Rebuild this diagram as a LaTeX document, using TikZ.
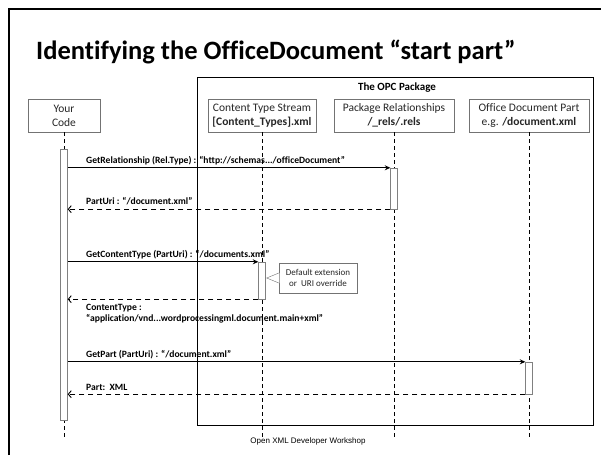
\documentclass[tikz,border=0pt]{standalone}
\usepackage{fontspec}
\setmainfont{Carlito}[Ligatures=CommonOff]
\newfontfamily\footfont{Liberation Sans}
\usetikzlibrary{arrows.meta}
\def\lifeend{438}

\tikzset{
  head/.style={draw=black!55, minimum height=33pt, inner sep=0pt, align=center,
    text=black!85, font=\fontsize{11.5}{14}\selectfont},
  actbar/.style={draw=black!50, fill=white, minimum width=7pt, inner sep=0pt},
  life/.style={dash pattern=on 4pt off 3pt, line width=0.9pt},
  call/.style={-{Stealth[length=5.5pt,width=5pt]}, line width=0.9pt},
  ret/.style={-{Straight Barb[length=3pt,width=7pt]}, dash pattern=on 5pt off 4pt, line width=0.9pt},
  lbl/.style={anchor=base west, inner sep=0pt, align=left,
    font=\bfseries\fontsize{9.6}{11}\selectfont},
}

\begin{document}
\begin{tikzpicture}[x=1pt,y=-1pt]
\useasboundingbox (0,0) rectangle (601,455);
\draw[line width=2pt] (9,455) -- (9,9) -- (601,9);

\node[anchor=base west, inner sep=0pt, font=\bfseries\fontsize{26.5}{30}\selectfont] (title) at (36,59)
  {Identifying the OfficeDocument “start part”};

\draw[line width=1pt] (197,77) rectangle (593,425);
\node[font=\bfseries\fontsize{11}{13}\selectfont] (opc) at (397,88) {The OPC Package};

\node[head, minimum width=72pt] (code) at (64,115.5) {Your\\Code};
\node[head, minimum width=108pt] (ct) at (262,115.5) {Content Type Stream\\\textbf{[Content\_Types].xml}};
\node[head, minimum width=120pt] (rels) at (394,115.5) {Package Relationships\\\textbf{/\_rels/.rels}};
\node[head, minimum width=120pt] (doc) at (529,115.5) {Office Document Part\\e.g. \textbf{/document.xml}};

\coordinate (codeend) at (64,\lifeend);
\coordinate (ctend) at (262,\lifeend);
\coordinate (relsend) at (394,\lifeend);
\coordinate (docend) at (529,\lifeend);
\draw[life] (code.south) -- (codeend);
\draw[life] (ct.south) -- (ctend);
\draw[life] (rels.south) -- (relsend);
\draw[life] (doc.south) -- (docend);

\node[actbar, minimum height=271pt] (codebar) at (64,284.5) {};
\node[actbar, minimum height=41pt] (relsbar) at (394,188.5) {};
\node[actbar, minimum height=37pt] (ctbar) at (262,280.5) {};
\node[actbar, minimum height=32pt] (docbar) at (529,378) {};

\draw[call] (codebar.east |- relsbar.north west) -- (relsbar.north west);
\draw[ret] (relsbar.south west) -- (codebar.east |- relsbar.south west);
\draw[call] (codebar.east |- ctbar.north west) -- (ctbar.north west);
\draw[ret] (ctbar.south west) -- (codebar.east |- ctbar.south west);
\draw[call] (codebar.east |- docbar.north west) -- (docbar.north west);
\draw[ret] (docbar.south west) -- (codebar.east |- docbar.south west);

\node[lbl] (getrel) at (86,163) {GetRelationship (Rel.Type) : “http://schemas.../officeDocument”};
\node[lbl] (parturi) at (86,204) {PartUri : “/document.xml”};
\node[lbl] (getct) at (86,257) {GetContentType (PartUri) : “/documents.xml”};
\node[lbl] (ctype) at (86,321) {ContentType :\\“application/vnd...wordprocessingml.document.main+xml”};
\node[lbl] (getpart) at (86,357) {GetPart (PartUri) : “/document.xml”};
\node[lbl] (part) at (86,390) {Part:\ \ XML};

\node[draw=black!55, fill=white, minimum width=78pt, minimum height=30pt, inner sep=0pt,
  align=center, text=black!85, font=\fontsize{9}{11}\selectfont] (note) at (318,278)
  {Default extension\\or\ \ URI override};
\fill[white] ([shift={(0.6,-5)}]note.west) -- ([xshift=1pt]ctbar.east |- note.west) -- ([shift={(0.6,5)}]note.west) -- cycle;
\draw[black!55] ([yshift=-5pt]note.west) -- ([xshift=1pt]ctbar.east |- note.west) -- ([yshift=5pt]note.west);

\node[font=\footfont\fontsize{8}{10}\selectfont] (foot) at (308,441) {Open XML Developer Workshop};
\end{tikzpicture}
\end{document}
